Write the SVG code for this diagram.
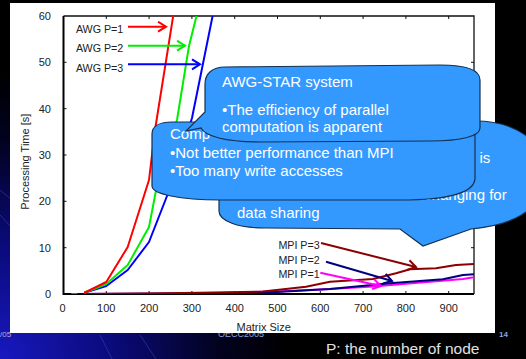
<svg xmlns="http://www.w3.org/2000/svg" width="526" height="359" viewBox="0 0 526 359">
<defs>
<radialGradient id="bg" cx="0" cy="359" r="290" gradientUnits="userSpaceOnUse">
<stop offset="0" stop-color="#1818c0"/>
<stop offset="0.4" stop-color="#0a0a78"/>
<stop offset="0.75" stop-color="#020220"/>
<stop offset="1" stop-color="#000"/>
</radialGradient>
<clipPath id="plot"><rect x="63.5" y="16" width="410.5" height="278"/></clipPath>
<marker id="ar-red" markerUnits="userSpaceOnUse" markerWidth="14" markerHeight="14" refX="10" refY="6" orient="auto"><path d="M2,1 L10,6 L2,11" fill="none" stroke="#ff0000" stroke-width="2"/></marker>
<marker id="ar-green" markerUnits="userSpaceOnUse" markerWidth="14" markerHeight="14" refX="10" refY="6" orient="auto"><path d="M2,1 L10,6 L2,11" fill="none" stroke="#00ee00" stroke-width="2"/></marker>
<marker id="ar-blue" markerUnits="userSpaceOnUse" markerWidth="14" markerHeight="14" refX="10" refY="6" orient="auto"><path d="M2,1 L10,6 L2,11" fill="none" stroke="#0000ff" stroke-width="2"/></marker>
<marker id="ar-dred" markerUnits="userSpaceOnUse" markerWidth="14" markerHeight="14" refX="10" refY="6" orient="auto"><path d="M2,1 L10,6 L2,11" fill="none" stroke="#8b0000" stroke-width="2"/></marker>
<marker id="ar-navy" markerUnits="userSpaceOnUse" markerWidth="14" markerHeight="14" refX="10" refY="6" orient="auto"><path d="M2,1 L10,6 L2,11" fill="none" stroke="#000080" stroke-width="2"/></marker>
<marker id="ar-mag" markerUnits="userSpaceOnUse" markerWidth="14" markerHeight="14" refX="10" refY="6" orient="auto"><path d="M2,1 L10,6 L2,11" fill="none" stroke="#ff00ff" stroke-width="2"/></marker>
</defs>
<style>
.tick{font-family:"Liberation Sans",Arial,sans-serif;font-size:11px;fill:#222}
.lab{font-family:"Liberation Sans",Arial,sans-serif;font-size:10.7px;fill:#222}
.ax{font-family:"Liberation Sans",Arial,sans-serif;font-size:11px;fill:#222}
.bub{fill:#3399ff;stroke:#14304f;stroke-width:1.2}
.bt{font-family:"Liberation Sans",Arial,sans-serif;font-size:15px;fill:#ffffff}
.curve{fill:none;stroke-width:2;stroke-linejoin:round;stroke-linecap:round}
.arr{fill:none;stroke-width:2}
.foot{font-family:"Liberation Sans",Arial,sans-serif}
</style>
<rect width="526" height="359" fill="#000"/>
<rect width="526" height="359" fill="url(#bg)"/>
<g stroke="#3a4ad8" stroke-width="1" opacity="0.5" fill="none">
<path d="M0,190 L12,200"/>
<path d="M0,215 L12,228"/>
<path d="M100,335 L112,359"/>
<path d="M140,335 L156,359"/>
</g>
<g id="footer">
<text class="foot" x="0" y="337" font-size="8" fill="#aab4dd">/05</text>
<text class="foot" x="218" y="336.8" font-size="9" fill="#8da0e0">OECC2005</text>
<text class="foot" x="499" y="337" font-size="8" font-weight="bold" fill="#8da0e0">14</text>
<text class="foot" x="326" y="354" font-size="15.5" fill="#e0e0e0">P: the number of node</text>
</g>
<rect id="panel" x="10" y="3" width="485" height="330" fill="#ffffff"/>
<g id="axes">
<path d="M63.5,16 H474 V294" fill="none" stroke="#111" stroke-width="1.3"/>
<path d="M63.5,16 V294 H474" fill="none" stroke="#000" stroke-width="2"/>
<g stroke="#111" stroke-width="1">
<path d="M106.3,16v3M149.1,16v3M191.9,16v3M234.7,16v3M277.5,16v3M320.3,16v3M363.1,16v3M405.9,16v3M448.7,16v3"/>
<path d="M106.3,294v-3M149.1,294v-3M191.9,294v-3M234.7,294v-3M277.5,294v-3M320.3,294v-3M363.1,294v-3M405.9,294v-3M448.7,294v-3"/>
<path d="M63.5,247.7h3M63.5,201.3h3M63.5,155h3M63.5,108.7h3M63.5,62.3h3"/>
<path d="M474,247.7h-3M474,201.3h-3M474,155h-3M474,108.7h-3M474,62.3h-3"/>
</g>
<g class="tick" text-anchor="end">
<text x="51" y="298">0</text>
<text x="51" y="251.7">10</text>
<text x="51" y="205.3">20</text>
<text x="51" y="159">30</text>
<text x="51" y="112.7">40</text>
<text x="51" y="66.3">50</text>
<text x="51" y="20">60</text>
</g>
<g class="tick" text-anchor="middle">
<text x="62.5" y="312">0</text>
<text x="106.3" y="312">100</text>
<text x="149.1" y="312">200</text>
<text x="191.9" y="312">300</text>
<text x="234.7" y="312">400</text>
<text x="277.5" y="312">500</text>
<text x="320.3" y="312">600</text>
<text x="363.1" y="312">700</text>
<text x="405.9" y="312">800</text>
<text x="448.7" y="312">900</text>
</g>
<text class="ax" x="263.7" y="330.5" text-anchor="middle">Matrix Size</text>
<text class="ax" transform="translate(29,161.7) rotate(-90)" text-anchor="middle">Processing Time [s]</text>
</g>
<g id="series" clip-path="url(#plot)">
<polyline class="curve" stroke="#ff00ff" points="72,294 200,293.5 277,291.5 330,289 373,286.5 430,281.7 463,279 474,277.3"/>
<polyline class="curve" stroke="#000080" points="78,294 200,293.5 263,292.7 330,289 390,283.3 443,279.3 463,275 474,274.3"/>
<polyline class="curve" stroke="#8b0000" points="85,294 150,293.5 200,292.8 263,291.5 306,286.7 330,281.7 373,279 396,273.3 410,269.3 436,268.3 456,265 474,264"/>
<polyline class="curve" stroke="#0000ff" points="85,292.5 106.3,286 127.7,270 149,242 167,196 192,118 213,14"/>
<polyline class="curve" stroke="#00ee00" points="85,292.5 106.3,284 127.7,265 149,227 158,180 177,120 189,46 197,14"/>
<polyline class="curve" stroke="#ff0000" points="85,292.5 106.3,282 127.7,247 149,180 155,130 173.5,14"/>
</g>
<g id="connectors">
<line class="arr" stroke="#ff0000" x1="128" y1="26.7" x2="166" y2="26.7" marker-end="url(#ar-red)"/>
<line class="arr" stroke="#00ee00" x1="128" y1="45.7" x2="185" y2="45.7" marker-end="url(#ar-green)"/>
<line class="arr" stroke="#0000ff" x1="128" y1="64.3" x2="200" y2="64.3" marker-end="url(#ar-blue)"/>
<line class="arr" stroke="#8b0000" x1="321" y1="243" x2="416" y2="267" marker-end="url(#ar-dred)"/>
<line class="arr" stroke="#000080" x1="326" y1="261.7" x2="392" y2="281" marker-end="url(#ar-navy)"/>
<line class="arr" stroke="#ff00ff" x1="320.3" y1="272.7" x2="381" y2="286" marker-end="url(#ar-mag)"/>
</g>
<g id="labels">
<text class="lab" x="123.3" y="33" text-anchor="end">AWG P=1</text>
<text class="lab" x="123.3" y="52" text-anchor="end">AWG P=2</text>
<text class="lab" x="123.3" y="72" text-anchor="end">AWG P=3</text>
<text class="lab" x="319.7" y="249" text-anchor="end">MPI P=3</text>
<text class="lab" x="319.7" y="264" text-anchor="end">MPI P=2</text>
<text class="lab" x="319.7" y="278" text-anchor="end">MPI P=1</text>
</g>
<g id="callout-mpi-sharing">
<path class="bub" d="M219,150 L219,211 C219,221 238,228 265,228 L400,229 L423,246 L471,229 C505,226 545,214 545,175 C545,140 515,121 475,121 L240,121 Z"/>
<text class="bt" x="479.5" y="163">is</text>
<text class="bt" x="506.7" y="200" text-anchor="end">exchanging for</text>
<text class="bt" x="237" y="218">data sharing</text>
</g>
<g id="callout-compared">
<path class="bub" d="M152,134 C152,126 160,122 172,122 L462,122 C471,122 475,126 475,133 L475,178 C475,192 450,200 400,200 L220,200 C180,200 152,194 152,186 Z"/>
<text class="bt" x="170" y="138.5">Comp</text>
<text class="bt" x="170" y="158">•Not better performance than MPI</text>
<text class="bt" x="170" y="175.5">•Too many write accesses</text>
</g>
<g id="callout-awg-star">
<path class="bub" d="M225,67 L440,65 C468,65 480,70 480,80 L480,128 C480,136 462,141 430,141 L260,142 C225,142 205,136 201,128 L186,131 L205,112 L205,84 C205,74 212,67 225,67 Z"/>
<text class="bt" x="222" y="87">AWG-STAR system</text>
<text class="bt" x="222" y="114.5">•The efficiency of parallel</text>
<text class="bt" x="222" y="132">computation is apparent</text>
</g>
</svg>
